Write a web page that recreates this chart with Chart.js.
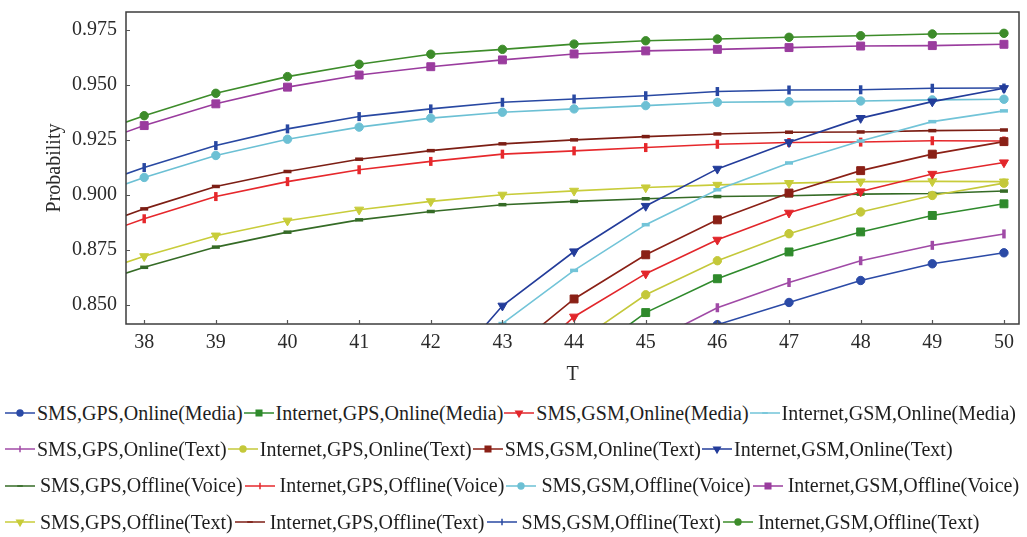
<!DOCTYPE html>
<html>
<head>
<meta charset="utf-8">
<script src="https://cdn.jsdelivr.net/npm/chart.js@4/dist/chart.umd.min.js"></script>
<style>
  html, body { margin: 0; padding: 0; background: #ffffff; }
  #wrap { position: relative; width: 1027px; height: 537px; overflow: hidden; background: #ffffff; }
  #plot { position: absolute; left: 0; top: 0; }
  #legend {
    position: absolute; left: 0; top: 395px; width: 1027px;
    font-family: "Liberation Serif", "Times New Roman", serif; font-size: 20px; color: #1e1e1e;
  }
  .row { display: flex; align-items: center; height: 36.3px; white-space: nowrap; padding-left: 5px; }
  .item { display: flex; align-items: center; margin-right: 1px; }
  .item canvas { display: block; margin-right: 2px; }
  .row.spaced .item canvas { margin-right: 5px; }
  .row.spaced .item { margin-right: 2px; }
</style>
</head>
<body>
<div id="wrap">
  <canvas id="plot" width="1027" height="395"></canvas>
  <div id="legend"></div>
</div>
<script>
// Time horizon T
const T = [37, 38, 39, 40, 41, 42, 43, 44, 45, 46, 47, 48, 49, 50];

// Probability for each strategy, one value per T (null = not reached yet)
const smsGpsOnlineMedia      = [null, null, null, null, null, null, null, null, 0.826, 0.8409, 0.851, 0.861, 0.8686, 0.8736];
const internetGpsOnlineMedia = [null, null, null, null, null, null, null, 0.8225, 0.8464, 0.8618, 0.874, 0.8831, 0.8906, 0.8959];
const smsGsmOnlineMedia      = [null, null, null, null, null, null, 0.815, 0.8445, 0.8641, 0.8795, 0.8918, 0.9015, 0.9095, 0.9147];
const internetGsmOnlineMedia = [null, null, null, null, null, 0.805, 0.8414, 0.8656, 0.8864, 0.9023, 0.9145, 0.9245, 0.9333, 0.9382];
const smsGpsOnlineText       = [null, null, null, null, null, null, null, 0.818, 0.832, 0.8486, 0.8601, 0.870, 0.877, 0.8822];
const internetGpsOnlineText  = [null, null, null, null, null, null, null, 0.832, 0.8545, 0.870, 0.8823, 0.8922, 0.8997, 0.9053];
const smsGsmOnlineText       = [null, null, null, null, null, null, 0.826, 0.8526, 0.8727, 0.8886, 0.9008, 0.911, 0.9185, 0.9242];
const internetGsmOnlineText  = [null, null, null, null, null, 0.812, 0.8495, 0.8742, 0.8949, 0.9118, 0.9239, 0.9349, 0.9424, 0.9485];
const smsGpsOfflineVoice      = [0.8565, 0.867, 0.8762, 0.883, 0.8886, 0.8924, 0.8955, 0.897, 0.8982, 0.8992, 0.8996, 0.9003, 0.9006, 0.9017];
const internetGpsOfflineVoice = [0.8775, 0.8891, 0.8992, 0.906, 0.9114, 0.9152, 0.9185, 0.920, 0.9215, 0.923, 0.9238, 0.9240, 0.9246, 0.9245];
const smsGsmOfflineVoice      = [0.8965, 0.9079, 0.9179, 0.9253, 0.9308, 0.9349, 0.9376, 0.9391, 0.9406, 0.9421, 0.9424, 0.9427, 0.9432, 0.9435];
const internetGsmOfflineVoice = [0.920, 0.9315, 0.9414, 0.949, 0.9545, 0.9583, 0.9614, 0.9641, 0.9655, 0.9662, 0.967, 0.9677, 0.9679, 0.9685];
const smsGpsOfflineText       = [0.861, 0.872, 0.8814, 0.8882, 0.8932, 0.897, 0.900, 0.9018, 0.9033, 0.9045, 0.9053, 0.9060, 0.9061, 0.906];
const internetGpsOfflineText  = [0.882, 0.8936, 0.9038, 0.9106, 0.9162, 0.9201, 0.9232, 0.925, 0.9265, 0.9277, 0.9285, 0.9286, 0.9292, 0.9295];
const smsGsmOfflineText       = [0.901, 0.9124, 0.9224, 0.930, 0.9356, 0.9391, 0.9421, 0.9436, 0.9451, 0.947, 0.9477, 0.9478, 0.9485, 0.9486];
const internetGsmOfflineText  = [0.9245, 0.936, 0.9462, 0.9538, 0.9594, 0.964, 0.9662, 0.9686, 0.9701, 0.9709, 0.9717, 0.9724, 0.9732, 0.9735];

// Tick values
const yTicks = [0.850, 0.875, 0.900, 0.925, 0.950, 0.975];
const xTicks = [38, 39, 40, 41, 42, 43, 44, 45, 46, 47, 48, 49, 50];

// Marker cycle: circle, square, down-triangle, horizontal dash, vertical bar
const MARK = {
  circle: { pointStyle: 'circle', radius: 4.2, rotation: 0, bw: 1 },
  square: { pointStyle: 'rect', radius: 5.6, rotation: 0, bw: 1 },
  tri:    { pointStyle: 'triangle', radius: 5.2, rotation: 180, bw: 1 },
  dash:   { pointStyle: 'line', radius: 4, rotation: 0, bw: 3.5 },
  bar:    { pointStyle: 'line', radius: 4.5, rotation: 90, bw: 3.5 }
};

const series = [
  { label: 'SMS,GPS,Online(Media)',       data: smsGpsOnlineMedia,      color: '#2b4aa6', mark: MARK.circle },
  { label: 'Internet,GPS,Online(Media)',  data: internetGpsOnlineMedia, color: '#2f8a2c', mark: MARK.square },
  { label: 'SMS,GSM,Online(Media)',       data: smsGsmOnlineMedia,      color: '#e2262b', mark: MARK.tri },
  { label: 'Internet,GSM,Online(Media)',  data: internetGsmOnlineMedia, color: '#72c4d8', mark: MARK.dash },
  { label: 'SMS,GPS,Online(Text)',        data: smsGpsOnlineText,       color: '#a04aa6', mark: MARK.bar },
  { label: 'Internet,GPS,Online(Text)',   data: internetGpsOnlineText,  color: '#c4c83a', mark: MARK.circle },
  { label: 'SMS,GSM,Online(Text)',        data: smsGsmOnlineText,       color: '#8a2016', mark: MARK.square },
  { label: 'Internet,GSM,Online(Text)',   data: internetGsmOnlineText,  color: '#233c9a', mark: MARK.tri },
  { label: 'SMS,GPS,Offline(Voice)',      data: smsGpsOfflineVoice,      color: '#356b26', mark: MARK.dash },
  { label: 'Internet,GPS,Offline(Voice)', data: internetGpsOfflineVoice, color: '#e6282c', mark: MARK.bar },
  { label: 'SMS,GSM,Offline(Voice)',      data: smsGsmOfflineVoice,      color: '#6cc0d4', mark: MARK.circle },
  { label: 'Internet,GSM,Offline(Voice)', data: internetGsmOfflineVoice, color: '#9a3c9e', mark: MARK.square },
  { label: 'SMS,GPS,Offline(Text)',       data: smsGpsOfflineText,       color: '#c8cc3a', mark: MARK.tri },
  { label: 'Internet,GPS,Offline(Text)',  data: internetGpsOfflineText,  color: '#7c1e14', mark: MARK.dash },
  { label: 'SMS,GSM,Offline(Text)',       data: smsGsmOfflineText,       color: '#2848a2', mark: MARK.bar },
  { label: 'Internet,GSM,Offline(Text)',  data: internetGsmOfflineText,  color: '#3d8c2a', mark: MARK.circle }
];

const FONT = { family: '"Liberation Serif", "Times New Roman", serif', size: 20 };
const INK = '#2a2a2a';

// Plot-box geometry on the canvas
const BOX = { left: 126, right: 1023, top: 12, bottom: 324 };
const CANVAS_H = 395;
const PAD_BOTTOM = 8;

const datasets = series.map(s => ({
  label: s.label,
  data: T.map((t, i) => ({ x: t, y: s.data[i] })),
  borderColor: s.color,
  backgroundColor: s.color,
  borderWidth: 1.6,
  tension: 0,
  spanGaps: false,
  pointStyle: s.mark.pointStyle,
  pointRadius: s.mark.radius,
  pointRotation: s.mark.rotation,
  pointBorderWidth: s.mark.bw,
  pointBackgroundColor: s.color,
  pointBorderColor: s.color
}));

// Frame around the plot plus short inward tick marks
const framePlugin = {
  id: 'frame',
  afterDatasetsDraw(chart) {
    const { ctx, chartArea: a, scales } = chart;
    ctx.save();
    ctx.strokeStyle = '#3c3c3c';
    ctx.lineWidth = 1.5;
    ctx.strokeRect(a.left, a.top, a.right - a.left, a.bottom - a.top);
    ctx.lineWidth = 1.2;
    ctx.strokeStyle = '#555';
    ctx.beginPath();
    scales.x.ticks.forEach(t => {
      const px = Math.round(scales.x.getPixelForValue(t.value)) + 0.5;
      ctx.moveTo(px, a.bottom);
      ctx.lineTo(px, a.bottom - 4);
    });
    scales.y.ticks.forEach(t => {
      const py = Math.round(scales.y.getPixelForValue(t.value)) + 0.5;
      ctx.moveTo(a.left, py);
      ctx.lineTo(a.left + 4, py);
    });
    ctx.stroke();
    ctx.restore();
  }
};

const chart = new Chart(document.getElementById('plot'), {
  type: 'line',
  data: { datasets },
  options: {
    responsive: false,
    animation: false,
    devicePixelRatio: 1,
    layout: { padding: { left: 0, right: 1027 - BOX.right, top: BOX.top, bottom: PAD_BOTTOM } },
    plugins: { legend: { display: false }, tooltip: { enabled: false } },
    scales: {
      x: {
        type: 'linear',
        min: 37.746,
        max: 50.21,
        border: { display: false },
        grid: { display: false, drawTicks: false },
        afterBuildTicks: s => { s.ticks = xTicks.map(v => ({ value: v })); },
        ticks: { padding: 7, font: FONT, color: INK, maxRotation: 0, autoSkip: false, callback: v => String(v) },
        title: { display: true, text: 'T', font: FONT, color: INK, padding: { top: 0, bottom: 0 } },
        afterFit: s => {
          s.height = CANVAS_H - PAD_BOTTOM - BOX.bottom;
          s.paddingLeft = 0; s.paddingRight = 0;
        }
      },
      y: {
        type: 'linear',
        min: 0.8412,
        max: 0.9832,
        border: { display: false },
        grid: { display: false, drawTicks: false },
        afterBuildTicks: s => { s.ticks = yTicks.map(v => ({ value: v })); },
        ticks: { padding: 9, font: FONT, color: INK, autoSkip: false, callback: v => v.toFixed(3) },
        title: { display: true, text: 'Probability', font: FONT, color: INK, padding: { top: 43, bottom: 0 } },
        afterFit: s => {
          s.width = BOX.left;
          s.paddingTop = 0; s.paddingBottom = 0;
        }
      }
    }
  },
  plugins: [framePlugin]
});

// Legend: four entries per row, line-and-marker swatch before each label
function drawSwatch(cv, s) {
  const c = cv.getContext('2d');
  const w = cv.width, h = cv.height, cy = h / 2;
  c.strokeStyle = s.color;
  c.fillStyle = s.color;
  c.lineWidth = 1.5;
  c.beginPath();
  c.moveTo(0, cy);
  c.lineTo(w, cy);
  c.stroke();
  const opts = {
    pointStyle: s.mark.pointStyle,
    rotation: s.mark.rotation,
    radius: s.mark.radius * 0.7,
    borderWidth: s.mark.bw > 1 ? 3 : 1
  };
  if (Chart.helpers && Chart.helpers.drawPoint) {
    Chart.helpers.drawPoint(c, opts, w / 2, cy);
  } else {
    c.beginPath();
    c.arc(w / 2, cy, 3, 0, Math.PI * 2);
    c.fill();
  }
}

const legendEl = document.getElementById('legend');
for (let r = 0; r < series.length; r += 4) {
  const row = document.createElement('div');
  row.className = r >= 8 ? 'row spaced' : 'row';
  series.slice(r, r + 4).forEach(s => {
    const item = document.createElement('div');
    item.className = 'item';
    const cv = document.createElement('canvas');
    cv.width = 30; cv.height = 16;
    drawSwatch(cv, s);
    const span = document.createElement('span');
    span.textContent = s.label;
    item.appendChild(cv);
    item.appendChild(span);
    row.appendChild(item);
  });
  legendEl.appendChild(row);
}
</script>
</body>
</html>
